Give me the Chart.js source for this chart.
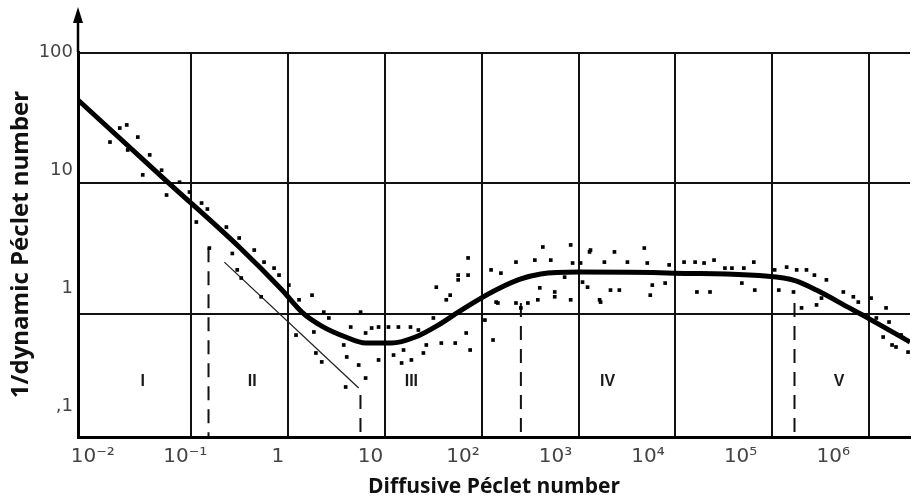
<!DOCTYPE html>
<html>
<head>
<meta charset="utf-8">
<script src="https://cdn.jsdelivr.net/npm/chart.js@4"></script>
<style>
  html, body { margin: 0; padding: 0; background: #fff; }
  #wrap { width: 914px; height: 500px; }
</style>
</head>
<body>
<div id="wrap"><canvas id="chart"></canvas></div>
<script>
// tick labels (the printed labels sit on their own spacing, slightly off the grid)
const xTickValues = [1e-2, 1e-1, 1, 10, 1e2, 1e3, 1e4, 1e5, 1e6];
const xTickLabels = ['10⁻²', '10⁻¹', '1', '10', '10²', '10³', '10⁴', '10⁵', '10⁶'];
const yTickValues = [100, 10, 1, 0.1];
const yTickLabels = ['100', '10', '1', ',1'];
const gridPe = [1e-1, 1, 10, 1e2, 1e3, 1e4, 1e5, 1e6];
const gridInv = [1, 10, 100];

// fitted trend line
const curvePe  = [0.00678, 0.0557, 0.313, 0.868, 1.39, 2.23, 3.94, 6.33, 11.7, 20.7, 35.6, 57.2, 91.8, 147, 254, 408, 980, 9720, 131000, 179000, 286000, 626000, 935000, 2650000];
const curveInv = [43.5, 10.4, 3.25, 1.52, 1.03, 0.805, 0.664, 0.597, 0.597, 0.664, 0.82, 1.03, 1.28, 1.55, 1.85, 2.02, 2.09, 2.05, 1.88, 1.78, 1.52, 1.11, 0.944, 0.608];

// thin asymptote in zone II
const asymPe  = [0.22, 5.37];
const asymInv = [2.49, 0.27];

// measured points
const scatterPe = [
  0.0216, 0.0183, 0.0145, 0.0221, 0.0281, 0.0373, 0.0495, 0.0316, 0.0758, 0.0557,
  0.0961, 0.128, 0.147, 0.113, 0.231, 0.313, 0.154, 0.448, 0.566, 0.299,
  0.329, 0.808, 0.528, 1.02, 1.77, 1.21, 2.34, 1.85, 1.94, 2.23,
  4.44, 4.04, 5.62, 5.37, 6.33, 7.3, 8.61, 8.61, 10.9, 13.8,
  18.4, 14.9, 18.8, 25.0, 26.8, 3.94, 6.33, 0.266, 0.718, 1.30,
  2.64, 3.76, 12.3, 15.6, 22.2, 31.7, 43.1,
  34.0, 47.3, 57.2, 72.4, 72.4, 38.3, 53.3, 69.2, 76.0, 108,
  125, 131, 158, 147, 226, 226, 300, 354, 380, 517,
  568, 719, 869, 830, 1050, 1240, 1650, 1330, 428, 398, 254,
  1300, 1690, 568, 1100, 830, 141, 57.2,
  1850, 2140, 2350, 2640, 3200, 4780, 5130, 5780, 5510, 8630,
  7850, 12300, 16000, 16700, 19800, 22800, 25100, 32500, 38400, 48600,
  51000, 64600, 66100, 106000, 117000, 141000,
  166000, 226000, 273000, 287000, 363000, 323000, 543000, 689000, 1050000, 1500000,
  1610000, 1400000, 1900000, 2530000, 201000, 179000, 775000, 1190000, 2140000, 1730000
];
const scatterInv = [
  28.0, 26.5, 20.7, 18.0, 22.6, 16.5, 12.6, 11.6, 10.2, 8.13,
  8.57, 7.06, 6.35, 5.05, 4.62, 3.81, 3.19, 3.08, 2.49, 2.17,
  1.88, 1.98, 1.35, 1.66, 1.39, 0.687, 1.03, 0.726, 0.501, 0.428,
  0.792, 0.467, 1.03, 0.405, 0.713, 0.778, 0.792, 0.443, 0.792, 0.792,
  0.792, 0.42, 0.443, 0.501, 0.577, 0.275, 0.322, 2.9, 2.24, 1.28,
  0.929, 0.577, 0.483, 0.528, 0.751, 0.929, 1.28,
  1.60, 1.39, 1.82, 2.68, 1.98, 0.597, 0.597, 0.713, 0.528, 0.896,
  2.17, 0.63, 2.05, 1.21, 2.49, 1.21, 1.21, 2.58, 1.28, 2.58,
  1.35, 1.91, 2.45, 1.28, 2.45, 1.60, 1.28, 3.08, 3.25, 1.58, 1.11,
  2.98, 1.23, 1.47, 1.75, 3.37, 1.23, 1.98,
  2.49, 1.52, 2.98, 1.52, 2.49, 3.19, 2.45, 1.66, 1.39, 2.37,
  1.72, 2.49, 2.49, 1.47, 2.45, 1.47, 2.58, 2.24, 2.24, 1.72,
  2.24, 2.49, 1.52, 2.17, 1.52, 2.28,
  1.47, 2.17, 1.98, 1.17, 1.82, 1.32, 1.47, 1.35, 1.32, 1.11,
  0.865, 0.664, 0.557, 0.509, 1.11, 2.17, 1.23, 0.929, 0.689, 0.577
];

// zone boundaries (dashed) and zone names
const boundaryPe  = [0.151, 5.6, 254, 170000];
const boundaryTop = [3.18, 0.239, 1.21, 1.21];
const regionNames = ['I', 'II', 'III', 'IV', 'V'];
const regionPe    = [0.0316, 0.426, 18.8, 1995, 490000];
const regionInv   = [0.3, 0.3, 0.3, 0.3, 0.3];

const yMin = 0.1138;

const boundarySets = boundaryPe.map((pe, i) => ({
  type: 'line',
  data: [{x: pe, y: boundaryTop[i]}, {x: pe, y: yMin}],
  borderColor: '#111',
  borderWidth: 2,
  borderDash: [14, 9],
  pointRadius: 0,
  xAxisID: 'x', yAxisID: 'y'
}));

const extras = {
  id: 'extras',
  afterDatasetsDraw(chart) {
    const {ctx, chartArea, scales} = chart;
    ctx.save();
    ctx.fillStyle = '#1a1a1a';
    ctx.font = 'bold 16px "Liberation Sans"';
    ctx.textAlign = 'center';
    ctx.textBaseline = 'middle';
    regionNames.forEach((t, i) => {
      ctx.fillText(t, scales.x.getPixelForValue(regionPe[i]), scales.y.getPixelForValue(regionInv[i]));
    });
    // arrow on top of the y axis
    const x0 = chartArea.left;
    ctx.strokeStyle = '#000';
    ctx.fillStyle = '#000';
    ctx.lineWidth = 2.5;
    ctx.beginPath();
    ctx.moveTo(x0, chartArea.top);
    ctx.lineTo(x0, 20);
    ctx.stroke();
    ctx.beginPath();
    ctx.moveTo(x0, 7);
    ctx.lineTo(x0 - 5, 23);
    ctx.lineTo(x0 + 5, 23);
    ctx.closePath();
    ctx.fill();
    ctx.restore();
  }
};

new Chart(document.getElementById('chart'), {
  type: 'scatter',
  data: {
    datasets: [
      {
        type: 'scatter',
        data: scatterPe.map((pe, i) => ({x: pe, y: scatterInv[i]})),
        pointStyle: 'rect',
        pointRadius: 2.6,
        backgroundColor: '#000',
        borderWidth: 0,
        xAxisID: 'x', yAxisID: 'y'
      },
      {
        type: 'line',
        data: curvePe.map((pe, i) => ({x: pe, y: curveInv[i]})),
        borderColor: '#000',
        borderWidth: 5,
        cubicInterpolationMode: 'monotone',
        pointRadius: 0,
        xAxisID: 'x', yAxisID: 'y'
      },
      {
        type: 'line',
        data: asymPe.map((pe, i) => ({x: pe, y: asymInv[i]})),
        borderColor: '#222',
        borderWidth: 1.3,
        pointRadius: 0,
        xAxisID: 'x', yAxisID: 'y'
      },
      ...boundarySets
    ]
  },
  options: {
    responsive: true,
    maintainAspectRatio: false,
    animation: false,
    layout: { padding: { top: 52, right: 0, left: 0, bottom: 0 } },
    plugins: { legend: { display: false }, tooltip: { enabled: false } },
    scales: {
      x: {
        type: 'logarithmic',
        position: 'bottom',
        weight: 0,
        min: 0.00678,
        max: 2650000,
        afterBuildTicks: s => { s.ticks = gridPe.map(v => ({value: v})); },
        afterFit: s => { s.height = 0; },
        grid: { color: '#111', lineWidth: 2, drawTicks: false },
        border: { color: '#000', width: 3 },
        ticks: { display: false }
      },
      xLab: {
        type: 'logarithmic',
        position: 'bottom',
        weight: 1,
        min: 0.00693,
        max: 6760000,
        afterBuildTicks: s => { s.ticks = xTickValues.map(v => ({value: v})); },
        afterFit: s => { s.height = 63; },
        grid: { display: false, drawTicks: false },
        border: { display: false },
        ticks: {
          autoSkip: false, maxRotation: 0, padding: 8,
          color: '#444',
          font: { family: 'DejaVu Sans', size: 20 },
          callback: (v, i) => xTickLabels[i]
        },
        title: {
          display: true,
          text: 'Diffusive Péclet number',
          color: '#111',
          font: { family: 'Open Sans', size: 21, weight: 'bold' },
          padding: { top: 0, bottom: 0 }
        }
      },
      y: {
        type: 'logarithmic',
        position: 'left',
        weight: 0,
        min: yMin,
        max: 101.4,
        afterBuildTicks: s => { s.ticks = gridInv.map(v => ({value: v})); },
        afterFit: s => { s.width = 0; },
        grid: { color: '#111', lineWidth: 2, drawTicks: false },
        border: { color: '#000', width: 3 },
        ticks: { display: false }
      },
      yLab: {
        type: 'logarithmic',
        position: 'left',
        weight: 1,
        min: 0.0548,
        max: 101.6,
        afterBuildTicks: s => { s.ticks = yTickValues.map(v => ({value: v})); },
        afterFit: s => { s.width = 78; },
        grid: { display: false, drawTicks: false },
        border: { display: false },
        ticks: {
          autoSkip: false, padding: 5,
          color: '#444',
          font: { family: 'DejaVu Sans', size: 18 },
          callback: (v, i) => yTickLabels[i]
        },
        title: {
          display: true,
          text: '1/dynamic Péclet number',
          color: '#111',
          font: { family: 'Open Sans', size: 24, weight: 'bold' },
          padding: { top: 7, bottom: 0 }
        }
      }
    }
  },
  plugins: [extras]
});
</script>
</body>
</html>
